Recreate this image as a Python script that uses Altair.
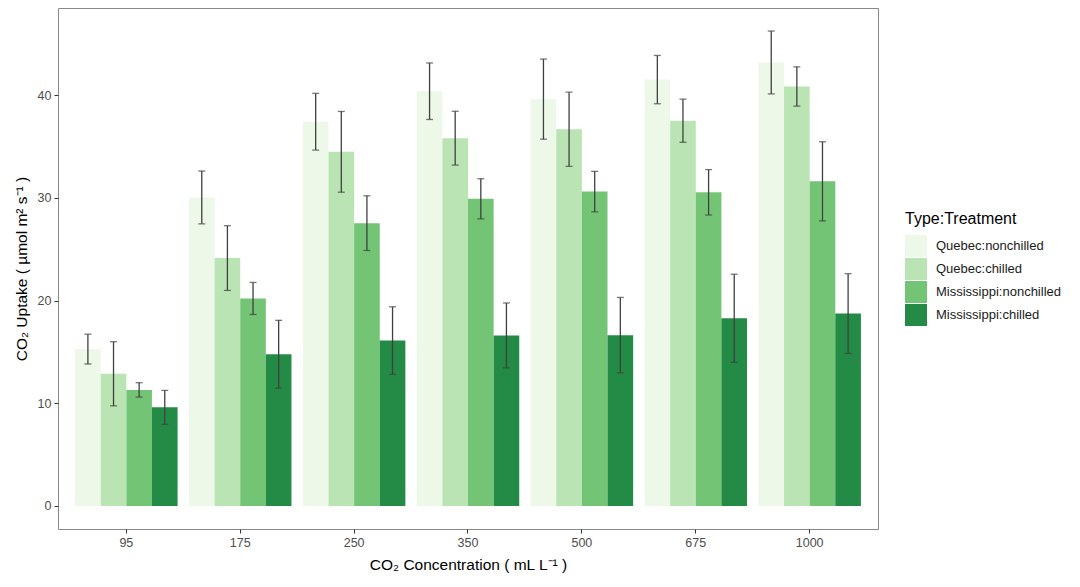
import altair as alt
import pandas as pd

concentrations = ["95", "175", "250", "350", "500", "675", "1000"]
groups = ["Quebec:nonchilled", "Quebec:chilled", "Mississippi:nonchilled", "Mississippi:chilled"]
colors = ["#EDF8E9", "#BAE4B3", "#74C476", "#238B45"]

mean_qn = [15.27, 30.03, 37.40, 40.37, 39.60, 41.50, 43.17]
sd_qn = [1.45, 2.57, 2.76, 2.75, 3.90, 2.35, 3.06]
mean_qc = [12.87, 24.13, 34.47, 35.80, 36.67, 37.50, 40.83]
sd_qc = [3.12, 3.15, 3.93, 2.62, 3.61, 2.10, 1.91]
mean_mn = [11.30, 20.20, 27.53, 29.90, 30.60, 30.53, 31.60]
sd_mn = [0.70, 1.56, 2.66, 1.95, 1.97, 2.21, 3.85]
mean_mc = [9.60, 14.77, 16.10, 16.60, 16.63, 18.27, 18.73]
sd_mc = [1.65, 3.30, 3.29, 3.16, 3.67, 4.29, 3.88]

means = [mean_qn, mean_qc, mean_mn, mean_mc]
sds = [sd_qn, sd_qc, sd_mn, sd_mc]

rows = []
for g, m, s in zip(groups, means, sds):
    for c, mv, sv in zip(concentrations, m, s):
        rows.append({"conc": c, "group": g, "mean": mv, "sd": sv})
df = pd.DataFrame(rows)

FONT = "Liberation Sans"

x_enc = alt.X(
    "conc:N",
    sort=concentrations,
    scale=alt.Scale(paddingInner=0.1, paddingOuter=0.15),
    axis=alt.Axis(
        title="CO₂ Concentration ( mL L⁻¹ )",
        labelAngle=0,
        domain=False,
        grid=False,
        tickSize=4,
        tickColor="#333333",
        labelColor="#4D4D4D",
        labelFontSize=12.5,
        labelPadding=3,
        titleFontSize=15.5,
        titleFontWeight="normal",
        titleColor="#000000",
        titlePadding=9,
    ),
)
xoff = alt.XOffset("group:N", sort=groups, scale=alt.Scale(paddingInner=0, paddingOuter=0))

y_scale = alt.Scale(domain=[-2.24, 48.47], nice=False, zero=False)
y_axis = alt.Axis(
    title="CO₂ Uptake ( µmol m² s⁻¹ )",
    values=[0, 10, 20, 30, 40],
    domain=False,
    grid=False,
    tickSize=4,
    tickColor="#333333",
    labelColor="#4D4D4D",
    labelFontSize=12.5,
    labelPadding=3,
    titleFontSize=15.5,
    titleFontWeight="normal",
    titleColor="#000000",
    titlePadding=8,
)

base = alt.Chart(df).transform_calculate(
    lower="datum.mean - datum.sd", upper="datum.mean + datum.sd"
)

bars = base.mark_bar(strokeWidth=0).encode(
    x=x_enc,
    xOffset=xoff,
    y=alt.Y("mean:Q", scale=y_scale, axis=y_axis),
    y2=alt.datum(0),
    color=alt.Color(
        "group:N",
        sort=groups,
        scale=alt.Scale(domain=groups, range=colors),
        legend=alt.Legend(
            title="Type:Treatment",
            orient="none",
            legendX=847,
            legendY=203,
            symbolType="square",
            symbolSize=484,
            symbolStrokeWidth=0,
            symbolOpacity=1,
            labelFontSize=13,
            labelColor="#1A1A1A",
            labelOffset=9,
            titleFontSize=16,
            titleFontWeight="normal",
            titleColor="#000000",
            titlePadding=8,
            rowPadding=1,
        ),
    ),
)

rules = base.mark_rule(color="#404040", strokeWidth=1.3).encode(
    x=alt.X("conc:N", sort=concentrations),
    xOffset=xoff,
    y=alt.Y("lower:Q", scale=y_scale),
    y2="upper:Q",
)
cap_hi = base.mark_tick(color="#404040", thickness=1.3, size=7).encode(
    x=alt.X("conc:N", sort=concentrations),
    xOffset=xoff,
    y=alt.Y("upper:Q", scale=y_scale),
)
cap_lo = base.mark_tick(color="#404040", thickness=1.3, size=7).encode(
    x=alt.X("conc:N", sort=concentrations),
    xOffset=xoff,
    y=alt.Y("lower:Q", scale=y_scale),
)

chart = (
    alt.layer(bars, rules, cap_hi, cap_lo)
    .properties(width=820, height=521, padding={"left": 6, "top": 0, "right": 5, "bottom": 5})
    .configure(font=FONT)
    .configure_view(stroke="#888888", strokeWidth=1)
)

chart.save("out.html", embed_options={"renderer": "svg", "actions": False})
